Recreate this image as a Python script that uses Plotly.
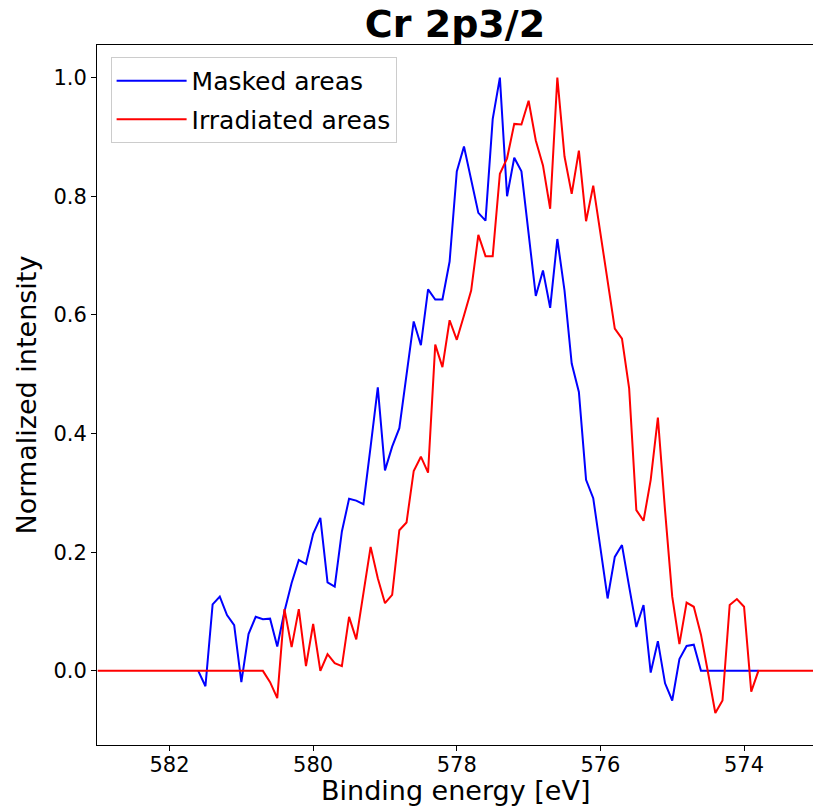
import plotly.graph_objects as go

# Binding energy grid (eV), 583.0 -> 573.0 in 0.1 eV steps
energy = [round(583.0 - 0.1 * i, 1) for i in range(101)]

# Masked areas (blue), defined from 581.6 to 573.8 eV
masked_energy = energy[14:93]
masked = [0.0, -0.026, 0.112, 0.125, 0.094, 0.077, -0.019, 0.062, 0.091, 0.087,
          0.088, 0.041, 0.100, 0.148, 0.187, 0.180, 0.231, 0.258, 0.149, 0.142,
          0.235, 0.290, 0.287, 0.281, 0.378, 0.478, 0.338, 0.378, 0.409, 0.495,
          0.589, 0.549, 0.643, 0.626, 0.626, 0.690, 0.842, 0.884, 0.829, 0.772,
          0.759, 0.930, 1.000, 0.800, 0.865, 0.842, 0.737, 0.632, 0.675, 0.612,
          0.728, 0.641, 0.518, 0.470, 0.322, 0.291, 0.207, 0.122, 0.192, 0.212,
          0.142, 0.074, 0.111, -0.003, 0.050, -0.021, -0.050, 0.020, 0.042, 0.044,
          0.0, 0.0, 0.0, 0.0, 0.0, 0.0, 0.0, 0.0, 0.0]

# Irradiated areas (red), full grid
irradiated = [0.0, 0.0, 0.0, 0.0, 0.0, 0.0, 0.0, 0.0, 0.0, 0.0, 0.0, 0.0, 0.0, 0.0,
              0.0, 0.0, 0.0, 0.0, 0.0, 0.0, 0.0, 0.0, 0.0, 0.0,
              -0.019, -0.046, 0.104, 0.040, 0.104, 0.008, 0.079, 0.0, 0.028, 0.013,
              0.008, 0.091, 0.053, 0.131, 0.209, 0.156, 0.114, 0.128, 0.237, 0.250,
              0.337, 0.361, 0.334, 0.550, 0.512, 0.591, 0.558, 0.599, 0.641, 0.735,
              0.699, 0.699, 0.838, 0.864, 0.922, 0.921, 0.961, 0.894, 0.852, 0.779,
              1.000, 0.867, 0.804, 0.877, 0.758, 0.818, 0.737, 0.655, 0.577, 0.560,
              0.476, 0.271, 0.253, 0.322, 0.427, 0.270, 0.125, 0.045, 0.115, 0.108,
              0.061, -0.004, -0.071, -0.050, 0.111, 0.121, 0.108, -0.035, 0.0,
              0.0, 0.0, 0.0, 0.0, 0.0, 0.0, 0.0, 0.0]

x_ticks = [582, 580, 578, 576, 574]
y_ticks = [0.0, 0.2, 0.4, 0.6, 0.8, 1.0]

FONT = "DejaVu Sans"

fig = go.Figure()
fig.add_trace(go.Scatter(x=masked_energy, y=masked, mode="lines", name="Masked areas",
                         legendgroup="m", line=dict(color="#0000ff", width=2)))
fig.add_trace(go.Scatter(x=energy, y=irradiated, mode="lines", name="Irradiated areas",
                         legendgroup="i", line=dict(color="#ff0000", width=2)))

fig.update_layout(
    width=813, height=809,
    margin=dict(l=97, r=0, t=45, b=64),
    paper_bgcolor="white", plot_bgcolor="white",
    font=dict(family=FONT, color="black"),
    title=dict(text="<b>Cr 2p3/2</b>", x=(97 + 813) / 2 / 813, xanchor="center",
               y=1 - 24 / 809, yref="container", yanchor="middle",
               font=dict(size=38, family=FONT, color="black")),
    showlegend=True,
    legend=dict(x=0.019, y=0.983, xanchor="left", yanchor="top",
                bgcolor="rgba(255,255,255,0.8)", bordercolor="#cccccc", borderwidth=1,
                font=dict(size=25, family=FONT, color="black"),
                itemwidth=70, tracegroupgap=3),
    xaxis=dict(range=[583.01, 573.04], tickvals=x_ticks, ticktext=[str(t) for t in x_ticks],
               showgrid=False, zeroline=False, showline=True, linecolor="black", linewidth=1,
               mirror=True, ticks="outside", ticklen=5, tickcolor="black",
               ticklabelstandoff=-4,
               tickfont=dict(size=21, family=FONT)),
    yaxis=dict(range=[-0.125, 1.055], tickvals=y_ticks, ticktext=[f"{t:.1f}" for t in y_ticks],
               showgrid=False, zeroline=False, showline=True, linecolor="black", linewidth=1,
               mirror=False, ticks="outside", ticklen=5, tickcolor="black",
               tickfont=dict(size=21, family=FONT),
               title=dict(text="Normalized intensity", font=dict(size=27, family=FONT), standoff=8)),
    annotations=[dict(text="Binding energy [eV]", xref="paper", yref="paper",
                      x=0.5, y=(745 - 790) / 700, xanchor="center", yanchor="middle",
                      showarrow=False, font=dict(size=27, family=FONT, color="black"))],
)

fig.write_html("out.html")
